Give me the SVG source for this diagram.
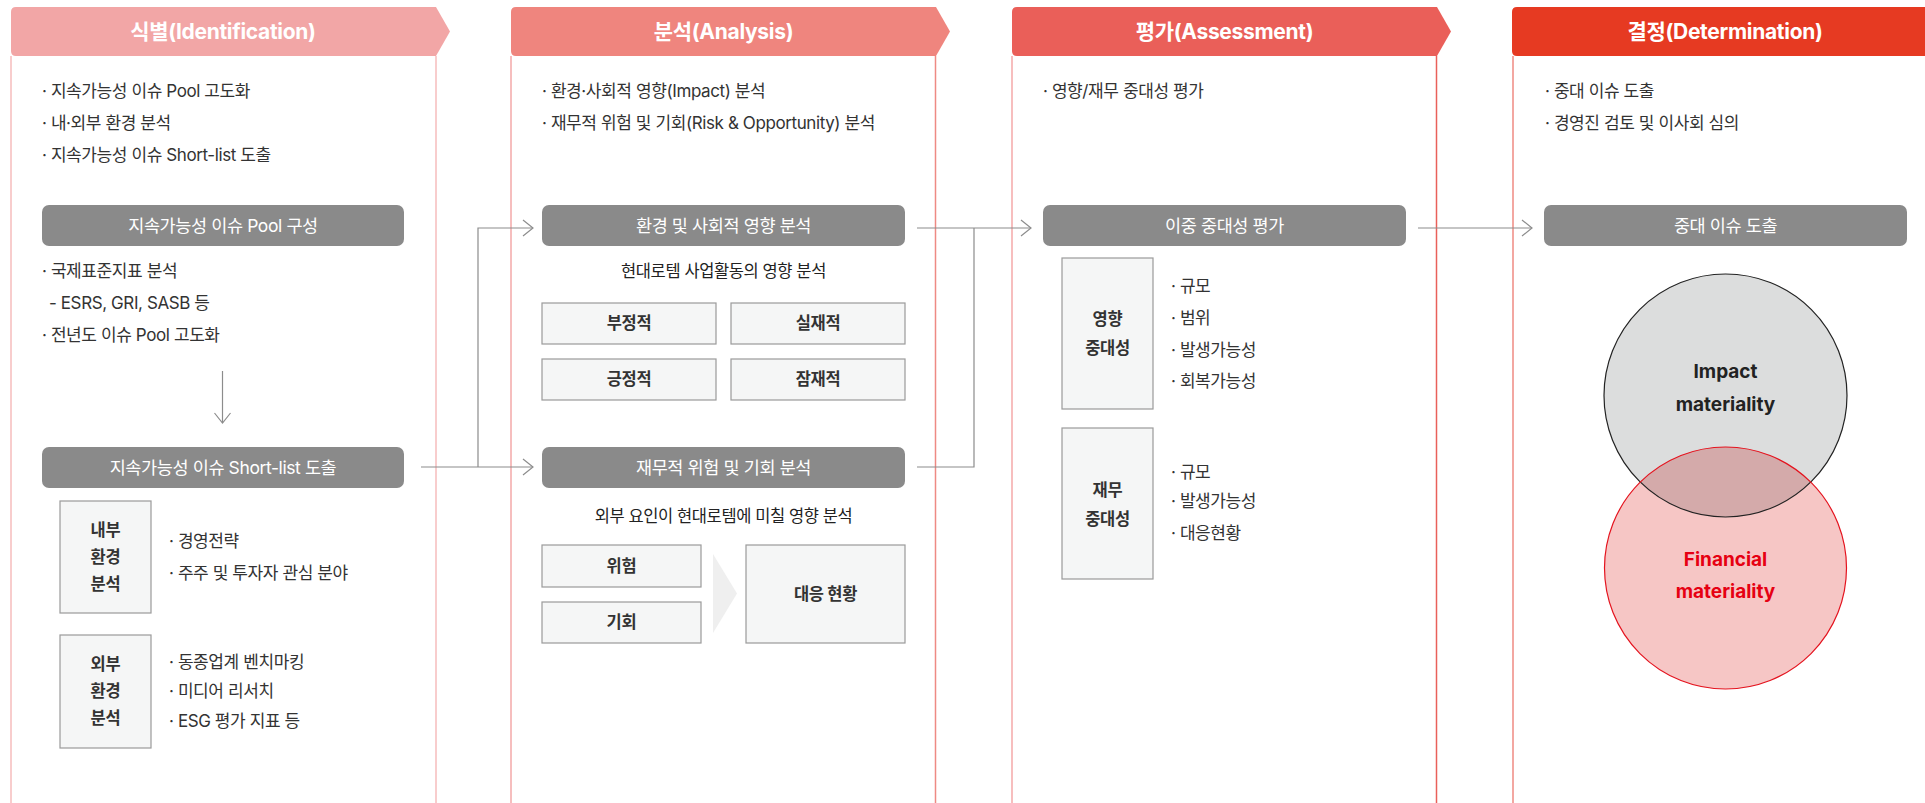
<svg xmlns="http://www.w3.org/2000/svg" width="1925" height="803" viewBox="0 0 1925 803">
<defs>
<style>
text{font-family:"Inter","Noto Sans CJK KR","Noto Sans",sans-serif;}
.hd{font-size:21px;font-weight:700;fill:#fff;text-anchor:middle;letter-spacing:-0.3px;}
.bl{font-size:17px;fill:#333;letter-spacing:-0.4px;}
.bar{fill:#8a8a8a;}
.bt{font-size:17.5px;fill:#fff;text-anchor:middle;letter-spacing:-0.4px;}
.box{fill:#f5f6f6;stroke:#9a9a9a;stroke-width:1.2;}
.bx{font-size:16.5px;font-weight:700;fill:#333;text-anchor:middle;letter-spacing:-0.3px;}
.ct{font-size:16.5px;fill:#222;text-anchor:middle;letter-spacing:-0.4px;}
.cn{fill:none;stroke:#8c8c8c;stroke-width:1.2;}
.ci{font-size:19px;font-weight:700;text-anchor:middle;}
</style>
<marker id="ar" viewBox="0 0 12 18" refX="11" refY="9" markerWidth="12" markerHeight="18" markerUnits="userSpaceOnUse" orient="auto">
<path d="M1,1 L11,9 L1,17" fill="none" stroke="#8c8c8c" stroke-width="1.2"/>
</marker>
<clipPath id="clipImpact"><circle cx="1725.5" cy="395.5" r="121.5"/></clipPath>
</defs>
<rect width="1925" height="803" fill="#fff"/>

<g id="col-identification">
<line x1="11" y1="56" x2="11" y2="803" stroke="#f6bcbc" stroke-width="1.5"/>
<line x1="436" y1="56" x2="436" y2="803" stroke="#f6bcbc" stroke-width="1.5"/>
<path d="M11,12 Q11,7 16,7 H436 L450,31.5 L436,56 H16 Q11,56 11,51 Z" fill="#f2a6a6"/>
<text class="hd" x="223" y="39">식별(Identification)</text>
<text class="bl" x="42" y="97">· 지속가능성 이슈 Pool 고도화</text>
<text class="bl" x="42" y="129">· 내·외부 환경 분석</text>
<text class="bl" x="42" y="161">· 지속가능성 이슈 Short-list 도출</text>
</g>

<g id="node-pool">
<rect class="bar" x="42" y="205" width="362" height="41" rx="7"/>
<text class="bt" x="223" y="231.5">지속가능성 이슈 Pool 구성</text>
<text class="bl" x="42" y="277">· 국제표준지표 분석</text>
<text class="bl" x="49" y="309">- ESRS, GRI, SASB 등</text>
<text class="bl" x="42" y="341">· 전년도 이슈 Pool 고도화</text>
</g>

<g id="node-shortlist">
<rect class="bar" x="42" y="447" width="362" height="41" rx="7"/>
<text class="bt" x="223" y="473.5">지속가능성 이슈 Short-list 도출</text>
</g>

<g id="node-internal">
<rect class="box" x="60" y="501" width="91" height="112"/>
<text class="bx" x="105.5" y="536">내부</text>
<text class="bx" x="105.5" y="563">환경</text>
<text class="bx" x="105.5" y="590">분석</text>
<text class="bl" x="169" y="547">· 경영전략</text>
<text class="bl" x="169" y="579">· 주주 및 투자자 관심 분야</text>
</g>

<g id="node-external">
<rect class="box" x="60" y="635" width="91" height="113"/>
<text class="bx" x="105.5" y="670">외부</text>
<text class="bx" x="105.5" y="697">환경</text>
<text class="bx" x="105.5" y="724">분석</text>
<text class="bl" x="169" y="668">· 동종업계 벤치마킹</text>
<text class="bl" x="169" y="697">· 미디어 리서치</text>
<text class="bl" x="169" y="727">· ESG 평가 지표 등</text>
</g>

<g id="col-analysis">
<line x1="511" y1="56" x2="511" y2="803" stroke="#f3a9a9" stroke-width="1.5"/>
<line x1="935.5" y1="56" x2="935.5" y2="803" stroke="#ee8a84" stroke-width="1.5"/>
<path d="M511,12 Q511,7 516,7 H936 L950,31.5 L936,56 H516 Q511,56 511,51 Z" fill="#ef857e"/>
<text class="hd" x="723.5" y="39">분석(Analysis)</text>
<text class="bl" x="542" y="97">· 환경·사회적 영향(Impact) 분석</text>
<text class="bl" x="542" y="129">· 재무적 위험 및 기회(Risk &amp; Opportunity) 분석</text>
</g>

<g id="node-impact-analysis">
<rect class="bar" x="542" y="205" width="363" height="41" rx="7"/>
<text class="bt" x="723.5" y="231.5">환경 및 사회적 영향 분석</text>
<text class="ct" x="723.5" y="277">현대로템 사업활동의 영향 분석</text>
<rect class="box" x="542" y="303" width="174" height="41"/>
<text class="bx" x="629" y="329">부정적</text>
<rect class="box" x="731" y="303" width="174" height="41"/>
<text class="bx" x="818" y="329">실재적</text>
<rect class="box" x="542" y="359" width="174" height="41"/>
<text class="bx" x="629" y="385">긍정적</text>
<rect class="box" x="731" y="359" width="174" height="41"/>
<text class="bx" x="818" y="385">잠재적</text>
</g>

<g id="node-risk-analysis">
<rect class="bar" x="542" y="447" width="363" height="41" rx="7"/>
<text class="bt" x="723.5" y="473.5">재무적 위험 및 기회 분석</text>
<text class="ct" x="723.5" y="522">외부 요인이 현대로템에 미칠 영향 분석</text>
<rect class="box" x="542" y="545" width="159" height="42"/>
<text class="bx" x="621.5" y="572">위험</text>
<rect class="box" x="542" y="602" width="159" height="41"/>
<text class="bx" x="621.5" y="628">기회</text>
<polygon points="713,554 737,593.5 713,633" fill="#efefef"/>
<rect class="box" x="746" y="545" width="159" height="98"/>
<text class="bx" x="825.5" y="600">대응 현황</text>
</g>

<g id="col-assessment">
<line x1="1012" y1="56" x2="1012" y2="803" stroke="#f5a9a9" stroke-width="1.5"/>
<line x1="1436.5" y1="56" x2="1436.5" y2="803" stroke="#e9605a" stroke-width="1.5"/>
<path d="M1012,12 Q1012,7 1017,7 H1437 L1451,31.5 L1437,56 H1017 Q1012,56 1012,51 Z" fill="#ea5f59"/>
<text class="hd" x="1224.5" y="39">평가(Assessment)</text>
<text class="bl" x="1043" y="97">· 영향/재무 중대성 평가</text>
</g>

<g id="node-double">
<rect class="bar" x="1043" y="205" width="363" height="41" rx="7"/>
<text class="bt" x="1224.5" y="231.5">이중 중대성 평가</text>
</g>

<g id="node-impact-mat">
<rect class="box" x="1062" y="258" width="91" height="151"/>
<text class="bx" x="1107.5" y="325">영향</text>
<text class="bx" x="1107.5" y="354">중대성</text>
<text class="bl" x="1171" y="292">· 규모</text>
<text class="bl" x="1171" y="324">· 범위</text>
<text class="bl" x="1171" y="356">· 발생가능성</text>
<text class="bl" x="1171" y="387">· 회복가능성</text>
</g>

<g id="node-financial-mat">
<rect class="box" x="1062" y="428" width="91" height="151"/>
<text class="bx" x="1107.5" y="496">재무</text>
<text class="bx" x="1107.5" y="525">중대성</text>
<text class="bl" x="1171" y="478">· 규모</text>
<text class="bl" x="1171" y="507">· 발생가능성</text>
<text class="bl" x="1171" y="539">· 대응현황</text>
</g>

<g id="col-determination">
<line x1="1513" y1="56" x2="1513" y2="803" stroke="#ef8a82" stroke-width="1.5"/>
<path d="M1512,12 Q1512,7 1517,7 H1940 V56 H1517 Q1512,56 1512,51 Z" fill="#e63a22"/>
<text class="hd" x="1725" y="39">결정(Determination)</text>
<text class="bl" x="1545" y="97">· 중대 이슈 도출</text>
<text class="bl" x="1545" y="129">· 경영진 검토 및 이사회 심의</text>
</g>

<g id="node-material">
<rect class="bar" x="1544" y="205" width="363" height="41" rx="7"/>
<text class="bt" x="1725.5" y="231.5">중대 이슈 도출</text>
</g>

<g id="node-venn">
<circle cx="1725.5" cy="395.5" r="121.5" fill="#dcdddd"/>
<circle cx="1725.5" cy="568" r="121" fill="#f6c6c5"/>
<circle cx="1725.5" cy="568" r="121" fill="#d4aaaa" clip-path="url(#clipImpact)"/>
<circle cx="1725.5" cy="395.5" r="121.5" fill="none" stroke="#222" stroke-width="1.2"/>
<circle cx="1725.5" cy="568" r="121" fill="none" stroke="#e4131e" stroke-width="1.2"/>
<text class="ci" x="1725.5" y="378" fill="#222">Impact</text>
<text class="ci" x="1725.5" y="411" fill="#222">materiality</text>
<text class="ci" x="1725.5" y="566" fill="#e60012">Financial</text>
<text class="ci" x="1725.5" y="598" fill="#e60012">materiality</text>
</g>

<g id="connectors">
<path class="cn" d="M222.5,371 V423" marker-end="url(#ar)"/>
<path class="cn" d="M421,467 H533" marker-end="url(#ar)"/>
<path class="cn" d="M478,467 V228 H533" marker-end="url(#ar)"/>
<path class="cn" d="M917,228 H1031" marker-end="url(#ar)"/>
<path class="cn" d="M917,467 H974 V228"/>
<path class="cn" d="M1418,228 H1532" marker-end="url(#ar)"/>
</g>
</svg>
